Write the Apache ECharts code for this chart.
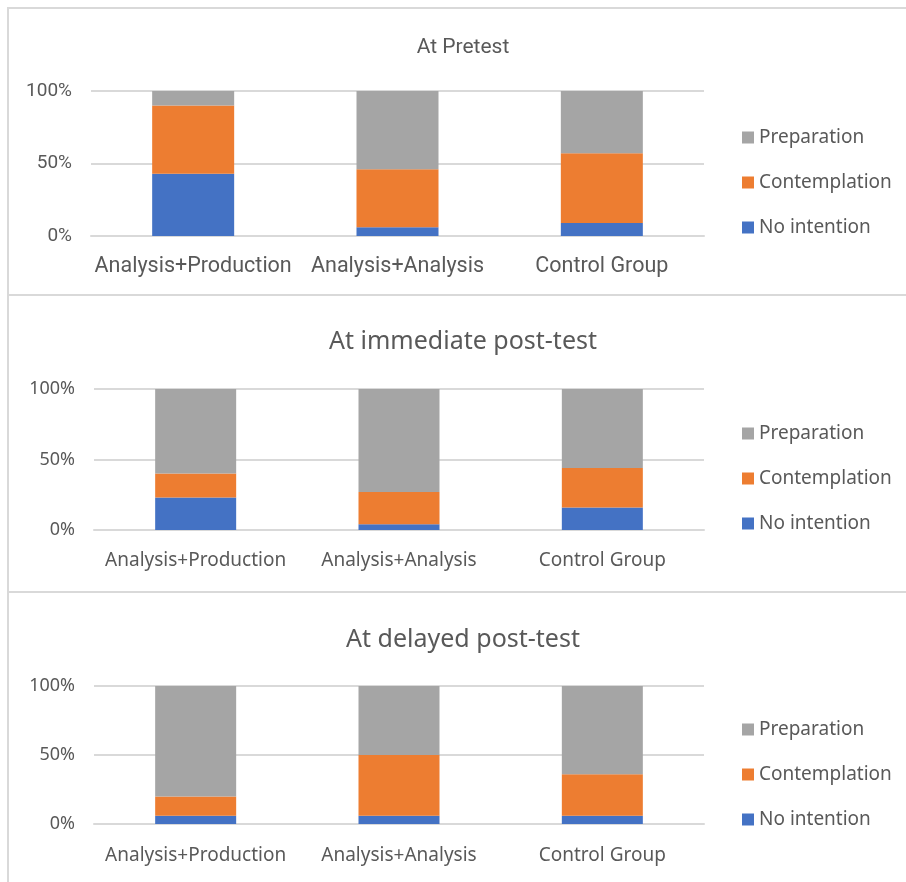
<!DOCTYPE html>
<html>
<head>
<meta charset="utf-8">
<script src="https://cdn.jsdelivr.net/npm/echarts@6/dist/echarts.min.js"></script>
<style>
  html, body { margin: 0; padding: 0; background: #fff; }
  #chart { width: 906px; height: 882px; }
</style>
</head>
<body>
<div id="chart"></div>
<script>
// Stages of change by group, at three measurement points (percent of group)
const groups = ['Analysis+Production', 'Analysis+Analysis', 'Control Group'];
const stages = ['No intention', 'Contemplation', 'Preparation'];
const panelTitles = ['At Pretest', 'At immediate post-test', 'At delayed post-test'];
const yTicks = [0, 50, 100];

const pretestNoIntention = [43, 6, 9];
const pretestContemplation = [47, 40, 48];
const pretestPreparation = [10, 54, 43];

const immediateNoIntention = [23, 4, 16];
const immediateContemplation = [17, 23, 28];
const immediatePreparation = [60, 73, 56];

const delayedNoIntention = [6, 6, 6];
const delayedContemplation = [14, 44, 30];
const delayedPreparation = [80, 50, 64];

const panelData = [
  [pretestNoIntention, pretestContemplation, pretestPreparation],
  [immediateNoIntention, immediateContemplation, immediatePreparation],
  [delayedNoIntention, delayedContemplation, delayedPreparation]
];

const stageColors = { 'No intention': '#4472C4', 'Contemplation': '#ED7D31', 'Preparation': '#A5A5A5' };
const textColor = '#595959';
const lineColor = '#d9d9d9';

// Per-panel layout (pixels)
const layout = [
  { top: 91, bottom: 236, left: 91, barWidth: 82, titleY: 43, titleSize: 21, titleFont: 'Roboto',
    labelFont: 'Roboto', labelSize: 21.5, yLabelSize: 19, xMargin: 20, legendTop: 123 },
  { top: 389, bottom: 530, left: 94, barWidth: 81, titleY: 337, titleSize: 25, titleFont: 'Noto Sans',
    labelFont: 'Noto Sans', labelSize: 19, yLabelSize: 18, xMargin: 21, legendTop: 419 },
  { top: 686, bottom: 824, left: 94, barWidth: 81, titleY: 635, titleSize: 25, titleFont: 'Noto Sans',
    labelFont: 'Noto Sans', labelSize: 19, yLabelSize: 18, xMargin: 22, legendTop: 715 }
];
const gridRight = 906 - 704;
const panelEdges = [[8, 295], [295, 592], [592, 900]];

const grids = [], xAxes = [], yAxes = [], series = [], titles = [], legends = [], graphics = [];

panelEdges.forEach(function (e) {
  graphics.push({
    type: 'rect', z: -10,
    shape: { x: 8, y: e[0], width: 960, height: e[1] - e[0] },
    style: { fill: '#fff', stroke: lineColor, lineWidth: 2 }
  });
});

layout.forEach(function (L, i) {
  grids.push({ left: L.left, right: gridRight, top: L.top, height: L.bottom - L.top });
  titles.push({
    text: panelTitles[i], left: 458, top: L.titleY, textAlign: 'center', textVerticalAlign: 'middle',
    textStyle: { fontFamily: L.titleFont, fontSize: L.titleSize, fontWeight: 'normal', color: textColor }
  });
  xAxes.push({
    type: 'category', gridIndex: i, data: groups,
    axisLine: { lineStyle: { color: lineColor, width: 2 } },
    axisTick: { show: false },
    axisLabel: { color: textColor, fontFamily: L.labelFont, fontSize: L.labelSize, margin: L.xMargin, interval: 0 }
  });
  yAxes.push({
    type: 'value', gridIndex: i, min: yTicks[0], max: yTicks[yTicks.length - 1], interval: yTicks[1] - yTicks[0],
    axisLine: { show: false }, axisTick: { show: false },
    splitLine: { lineStyle: { color: lineColor, width: 2 } },
    axisLabel: { color: textColor, fontFamily: L.labelFont, fontSize: L.yLabelSize, margin: 19, formatter: '{value}%' }
  });
  stages.forEach(function (s, k) {
    series.push({
      name: s, type: 'bar', stack: 'p' + i, xAxisIndex: i, yAxisIndex: i,
      barWidth: L.barWidth, data: panelData[i][k],
      itemStyle: { color: stageColors[s] }, emphasis: { disabled: true }
    });
  });
  legends.push({
    orient: 'vertical', left: 737, top: L.legendTop, itemGap: 26,
    itemWidth: 12, itemHeight: 12, icon: 'rect',
    data: ['Preparation', 'Contemplation', 'No intention'],
    textStyle: { fontFamily: 'Noto Sans', fontSize: 19, color: textColor },
    selectedMode: false
  });
});

const chart = echarts.init(document.getElementById('chart'));
chart.setOption({
  animation: false,
  backgroundColor: '#fff',
  graphic: graphics,
  title: titles,
  legend: legends,
  grid: grids,
  xAxis: xAxes,
  yAxis: yAxes,
  series: series
});
</script>
</body>
</html>
